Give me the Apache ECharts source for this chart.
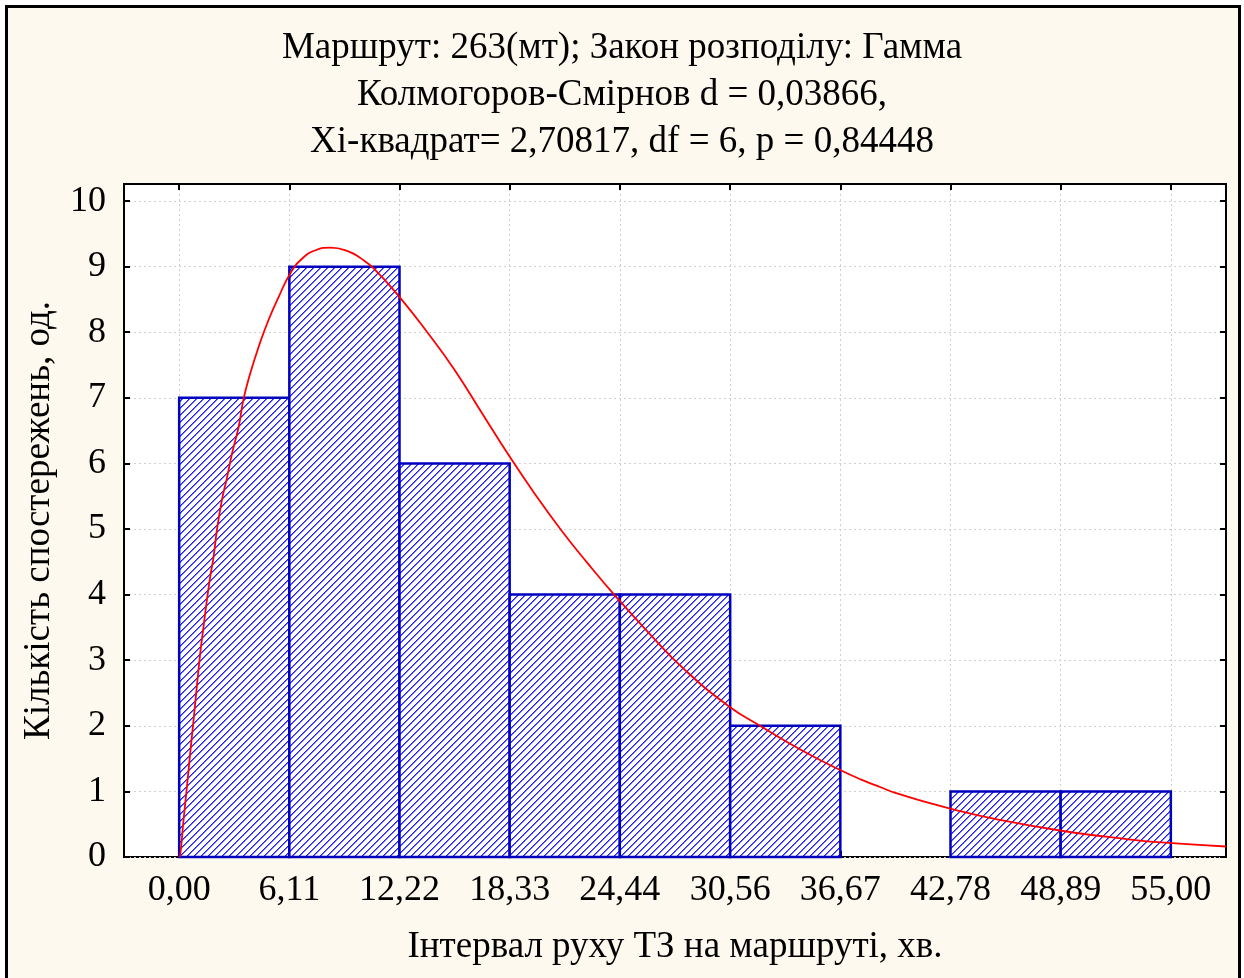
<!DOCTYPE html>
<html>
<head>
<meta charset="utf-8">
<script src="https://cdn.jsdelivr.net/npm/echarts@6/dist/echarts.min.js"></script>
<style>
html,body{margin:0;padding:0;background:#ffffff;}
#frame{position:absolute;left:5px;top:5px;width:1230px;height:1000px;border:3px solid #000;background:#FEF9EE;}
#c{position:absolute;left:0;top:0;width:1244px;height:978px;}
</style>
</head>
<body>
<div id="frame"></div>
<div id="c"></div>
<script>
// ---- data ----
const titleLines = [
  'Маршрут: 263(мт); Закон розподілу: Гамма',
  'Колмогоров-Смірнов d = 0,03866,',
  'Хі-квадрат= 2,70817, df = 6, p = 0,84448'
];
const xAxisName = 'Інтервал руху ТЗ на маршруті, хв.';
const yAxisName = 'Кількість спостережень, од.';
const binEdges = [0, 6.11, 12.22, 18.33, 24.44, 30.56, 36.67, 42.78, 48.89, 55.00];
const counts = [7, 9, 6, 4, 4, 2, 0, 1, 1];
const yTicks = [0, 1, 2, 3, 4, 5, 6, 7, 8, 9, 10];
const curveX = [0, 0.06, 0.24, 0.43, 0.61, 0.80, 0.98, 1.17, 1.35, 1.54, 1.72, 1.91, 2.09, 2.37, 2.65, 2.93, 3.30, 3.57, 3.94, 4.41, 4.96, 5.52, 6.17, 6.81, 7.56, 8.39, 9.41, 10.06, 10.80, 12.18, 13.76, 15.24, 16.72, 18.29, 19.69, 21.17, 22.65, 24.22, 26.17, 28.02, 30.52, 32.28, 34.50, 36.63, 37.83, 38.94, 39.68, 41.54, 42.87, 45.24, 48.94, 52.65, 55.06, 58.06];
const curveY = [0, 0.03, 0.56, 1.07, 1.58, 2.09, 2.60, 3.11, 3.51, 3.92, 4.27, 4.58, 4.98, 5.44, 5.78, 6.15, 6.56, 6.98, 7.37, 7.78, 8.19, 8.54, 8.90, 9.12, 9.25, 9.29, 9.23, 9.13, 8.97, 8.55, 8.00, 7.44, 6.80, 6.12, 5.55, 4.99, 4.48, 3.97, 3.38, 2.86, 2.29, 1.99, 1.63, 1.33, 1.18, 1.06, 0.98, 0.83, 0.73, 0.58, 0.40, 0.27, 0.21, 0.16];

// ---- hatch pattern (crisp pixel diagonals) ----
const P = 7;
const pat = document.createElement('canvas');
pat.width = P; pat.height = P;
const pc = pat.getContext('2d');
pc.fillStyle = '#ffffff';
pc.fillRect(0, 0, P, P);
for (let y = 0; y < P; y++) {
  const x = (P - 1 - y + P) % P;
  pc.fillStyle = '#1E1EFF';
  pc.fillRect(x, y, 1, 1);
  pc.fillStyle = '#6A6AFF';
  pc.fillRect((x + 1) % P, y, 1, 1);
}

const font = 'Liberation Serif, Times New Roman, serif';
const fmt = v => v.toFixed(2).replace('.', ',');
const barData = counts.map((c, i) => [binEdges[i], binEdges[i + 1], c]);
const curveData = curveX.map((x, i) => [x, curveY[i]]);
const xMin = -3.06, xMax = 58.06, yMax = 10.26;

const chart = echarts.init(document.getElementById('c'));
const gridLine = {show: true, lineStyle: {color: '#d0d0d0', type: [2, 3], width: 1}};
const tickStyle = {color: '#000', width: 2};
chart.setOption({
  backgroundColor: 'transparent',
  animation: false,
  title: {
    text: titleLines.join('\n'),
    left: 'center',
    top: 20,
    textStyle: {fontFamily: font, fontSize: 37, fontWeight: 'normal', color: '#000', lineHeight: 47}
  },
  grid: {left: 124, right: 18, top: 184, bottom: 121, show: true, backgroundColor: '#ffffff', borderColor: '#000', borderWidth: 2},
  xAxis: [{
    type: 'value', min: xMin, max: xMax, position: 'bottom',
    axisLine: {show: false, onZero: false},
    axisTick: {show: true, inside: true, length: 6, customValues: binEdges, lineStyle: tickStyle},
    axisLabel: {customValues: binEdges, formatter: fmt, fontFamily: font, fontSize: 36, color: '#000', margin: 16},
    splitLine: gridLine,
    name: xAxisName, nameLocation: 'middle', nameGap: 72,
    nameTextStyle: {fontFamily: font, fontSize: 37, color: '#000'}
  }, {
    type: 'value', min: xMin, max: xMax, position: 'top',
    axisLine: {show: false, onZero: false},
    axisTick: {show: true, inside: true, length: 6, customValues: binEdges, lineStyle: tickStyle},
    axisLabel: {show: false},
    splitLine: {show: false}
  }],
  yAxis: [{
    type: 'value', min: 0, max: yMax, position: 'left',
    axisLine: {show: false, onZero: false},
    axisTick: {show: true, inside: true, length: 6, customValues: yTicks, lineStyle: tickStyle},
    axisLabel: {customValues: yTicks, fontFamily: font, fontSize: 36, color: '#000', margin: 18},
    splitLine: gridLine,
    name: yAxisName, nameLocation: 'middle', nameGap: 66,
    nameTextStyle: {fontFamily: font, fontSize: 37, color: '#000'}
  }, {
    type: 'value', min: 0, max: yMax, position: 'right',
    axisLine: {show: false, onZero: false},
    axisTick: {show: true, inside: true, length: 6, customValues: yTicks, lineStyle: tickStyle},
    axisLabel: {show: false},
    splitLine: {show: false}
  }],
  series: [{
    type: 'custom',
    xAxisIndex: 0, yAxisIndex: 0,
    data: barData,
    encode: {x: [0, 1], y: 2},
    z: 3,
    renderItem: function (params, api) {
      const c = api.value(2);
      if (!c) return null;
      const p0 = api.coord([api.value(0), c]);
      const p1 = api.coord([api.value(1), 0]);
      return {
        type: 'rect',
        shape: {x: p0[0], y: p0[1], width: p1[0] - p0[0], height: p1[1] - p0[1]},
        style: {fill: {image: pat, repeat: 'repeat'}, stroke: '#0000C0', lineWidth: 2.5}
      };
    }
  }, {
    type: 'line',
    xAxisIndex: 0, yAxisIndex: 0,
    data: curveData,
    smooth: 0.5,
    showSymbol: false,
    symbol: 'none',
    z: 5,
    lineStyle: {color: '#FF0000', width: 1.8}
  }]
});
</script>
</body>
</html>
